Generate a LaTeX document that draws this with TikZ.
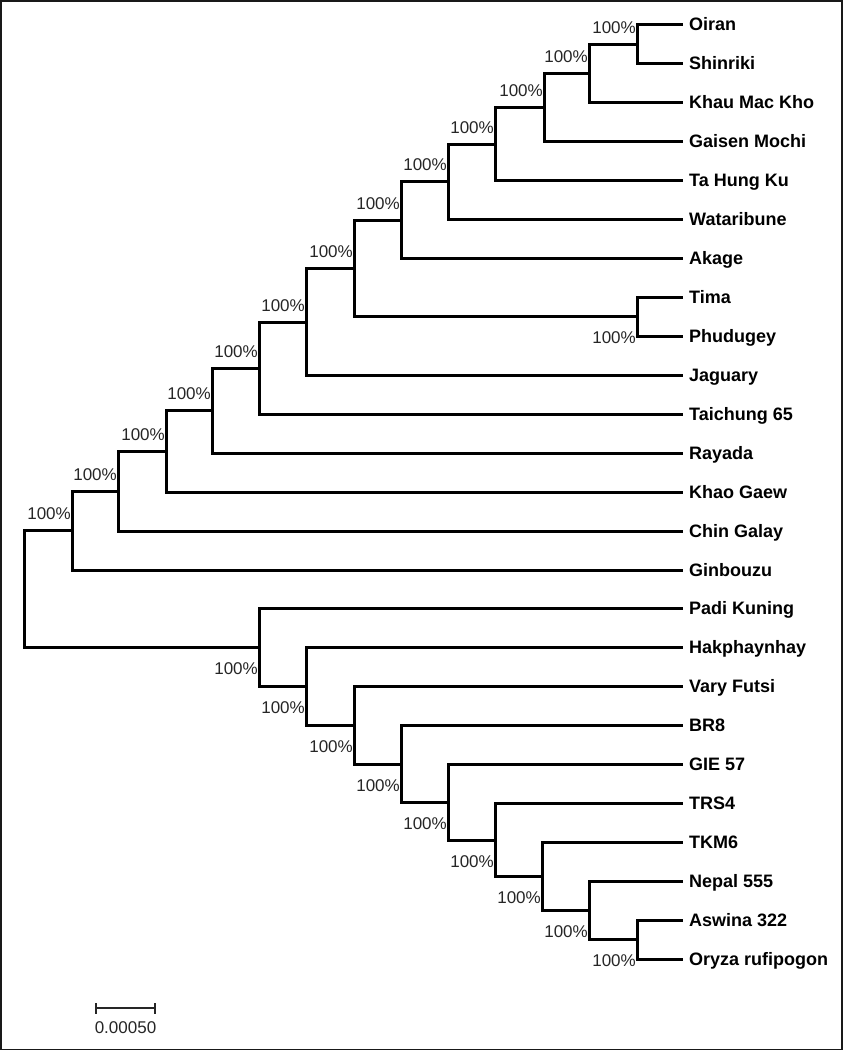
\documentclass[tikz,border=0pt]{standalone}
\usepackage{fontspec}
\setmainfont{Liberation Sans}
\begin{document}
\begin{tikzpicture}[x=1pt,y=-1pt,
  branch/.style={line width=3pt, black},
  leaf/.style={anchor=base west, inner sep=0pt, font=\fontsize{18}{20}\selectfont\bfseries},
  boot/.style={anchor=base east, inner sep=0pt, font=\fontsize{17}{19}\selectfont, text=black!85},
  scalebar/.style={line width=1.8pt, black!85},
  frame/.style={line width=1.6pt, black!90}]
\useasboundingbox (0,0) rectangle (843,1051);
\draw[frame] (0.8,0.8) rectangle (842,1049.6);
% leaves
\foreach \i/\name in {0/Oiran,1/Shinriki,2/Khau Mac Kho,3/Gaisen Mochi,4/Ta Hung Ku,5/Wataribune,6/Akage,7/Tima,8/Phudugey,9/Jaguary,10/Taichung 65,11/Rayada,12/Khao Gaew,13/Chin Galay,14/Ginbouzu,15/Padi Kuning,16/Hakphaynhay,17/Vary Futsi,18/BR8,19/GIE 57,20/TRS4,21/TKM6,22/Nepal 555,23/Aswina 322,24/Oryza rufipogon}{
  \coordinate (l\i) at (683,{25+38.93*\i});
  \node[leaf] (t\i) at (689,{31+38.93*\i}) {\name};
}
% internal nodes
\coordinate (a1) at (637,44.47);
\coordinate (a2) at (589,73.66);
\coordinate (a3) at (544,107.73);
\coordinate (a4) at (495,144.22);
\coordinate (a5) at (448,181.94);
\coordinate (a6) at (401,220.26);
\coordinate (b1) at (637,316.98);
\coordinate (a7) at (354,268.62);
\coordinate (a8) at (306,322.0);
\coordinate (a9) at (259,368.15);
\coordinate (a10) at (212,410.69);
\coordinate (a11) at (166,451.43);
\coordinate (a12) at (118,491.26);
\coordinate (a13) at (72,530.64);
\coordinate (c1) at (637,939.86);
\coordinate (c2) at (589,910.66);
\coordinate (c3) at (542,876.6);
\coordinate (c4) at (495,840.1);
\coordinate (c5) at (448,802.39);
\coordinate (c6) at (401,764.07);
\coordinate (c7) at (354,725.44);
\coordinate (c8) at (306,686.66);
\coordinate (c9) at (259,647.81);
\coordinate (root) at (24,589.2);
% branches
\draw[branch] (a1) |- (l0) (a1) |- (l1)
  (a2) |- (a1) (a2) |- (l2)
  (a3) |- (a2) (a3) |- (l3)
  (a4) |- (a3) (a4) |- (l4)
  (a5) |- (a4) (a5) |- (l5)
  (a6) |- (a5) (a6) |- (l6)
  (b1) |- (l7) (b1) |- (l8)
  (a7) |- (a6) (a7) |- (b1)
  (a8) |- (a7) (a8) |- (l9)
  (a9) |- (a8) (a9) |- (l10)
  (a10) |- (a9) (a10) |- (l11)
  (a11) |- (a10) (a11) |- (l12)
  (a12) |- (a11) (a12) |- (l13)
  (a13) |- (a12) (a13) |- (l14)
  (c1) |- (l23) (c1) |- (l24)
  (c2) |- (l22) (c2) |- (c1)
  (c3) |- (l21) (c3) |- (c2)
  (c4) |- (l20) (c4) |- (c3)
  (c5) |- (l19) (c5) |- (c4)
  (c6) |- (l18) (c6) |- (c5)
  (c7) |- (l17) (c7) |- (c6)
  (c8) |- (l16) (c8) |- (c7)
  (c9) |- (l15) (c9) |- (c8)
  (root) |- (a13) (root) |- (c9);
% bootstrap labels
\foreach \n in {a1,a2,a3,a4,a5,a6,a7,a8,a9,a10,a11,a12,a13}{
  \node[boot] (s\n) at ([shift={(-1,-11)}]\n) {100\%};
}
\foreach \n in {b1,c1,c2,c3,c4,c5,c6,c7,c8,c9}{
  \node[boot] (s\n) at ([shift={(-1,27)}]\n) {100\%};
}
% scale bar
\coordinate (sbL) at (96,1008);
\coordinate (sbR) at (155,1008);
\draw[scalebar] (sbL) -- (sbR);
\draw[scalebar] ([shift={(0,-5)}]sbL) -- ([shift={(0,6)}]sbL);
\draw[scalebar] ([shift={(0,-5)}]sbR) -- ([shift={(0,6)}]sbR);
\node[boot, anchor=base] (sblabel) at (125.5,1033) {0.00050};
\end{tikzpicture}
\end{document}
